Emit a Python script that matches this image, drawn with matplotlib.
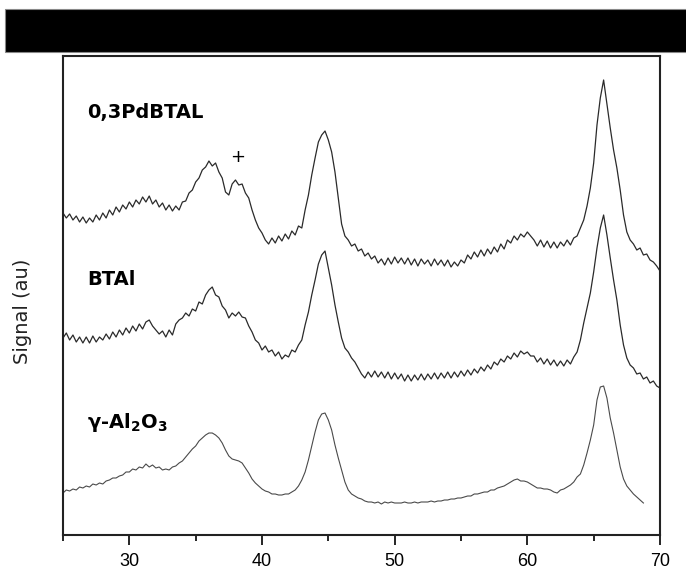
import numpy as np
import matplotlib
matplotlib.use("Agg")
import matplotlib.pyplot as plt
from matplotlib.patches import Rectangle

# 2-theta sampling grid (degrees)
two_theta = np.linspace(25, 70, 181)
two_theta_al2o3 = np.linspace(25, 68.75, 176)

# 0,3PdBTAL trace (arbitrary units, offset)
sig_pdbtal = [
    322, 317, 321, 315, 319, 313, 318, 312, 317, 313, 320, 315, 322, 317, 325, 320,
    328, 323, 330, 326, 333, 328, 335, 331, 338, 333, 339, 331, 335, 328, 332, 325,
    330, 324, 329, 325, 333, 334, 342, 345, 353, 357, 365, 368, 374, 369, 372, 363,
    357, 343, 340, 351, 355, 350, 351, 342, 337, 325, 315, 307, 302, 295, 291, 297,
    292, 299, 294, 301, 296, 304, 300, 309, 307, 325, 340, 360, 377, 393, 400, 404,
    395, 383, 363, 337, 311, 299, 295, 289, 291, 284, 286, 279, 282, 276, 279, 272,
    276, 270, 277, 271, 278, 272, 277, 271, 277, 270, 276, 269, 276, 271, 275, 269,
    276, 270, 275, 269, 275, 268, 273, 269, 275, 272, 280, 276, 283, 278, 285, 279,
    286, 281, 288, 283, 291, 286, 295, 292, 299, 295, 301, 298, 303, 299, 295, 289,
    295, 288, 294, 287, 293, 287, 293, 289, 295, 290, 297, 299, 307, 315, 329, 347,
    372, 410, 437, 455, 431, 407, 385, 367, 345, 320, 303, 295, 291, 285, 287, 280,
    281, 275, 273, 269, 264,
]

# BTAl trace
sig_btal = [
    197, 202, 195, 200, 193, 198, 192, 198, 192, 199, 193, 198, 195, 201, 196, 203,
    198, 205, 200, 207, 202, 209, 204, 211, 206, 213, 215, 209, 205, 201, 204, 198,
    205, 200, 211, 215, 217, 222, 219, 226, 224, 233, 231, 240, 245, 248, 240, 238,
    229, 225, 217, 222, 219, 223, 218, 217, 209, 203, 195, 192, 185, 189, 183, 185,
    179, 183, 176, 180, 178, 185, 183, 190, 195, 210, 223, 240, 255, 271, 280, 284,
    267, 250, 230, 213, 197, 187, 183, 177, 173, 167, 161, 157, 163, 158, 164, 158,
    163, 157, 163, 156, 162, 156, 161, 154, 160, 154, 160, 155, 161, 155, 161, 156,
    162, 156, 162, 157, 163, 157, 163, 158, 164, 159, 165, 160, 166, 162, 168, 164,
    170, 166, 173, 170, 176, 173, 179, 176, 182, 178, 184, 181, 183, 179, 179, 173,
    177, 171, 176, 170, 175, 169, 174, 169, 175, 171, 178, 183, 195, 212, 227, 242,
    263, 287, 307, 320, 300, 277, 255, 235, 210, 190, 177, 170, 167, 161, 162, 156,
    158, 152, 154, 149, 147,
]

# gamma-Al2O3 trace
sig_al2o3 = [
    42, 45, 44, 46, 45, 48, 47, 49, 48, 51, 50, 52, 51, 54, 55, 57,
    57, 59, 60, 63, 63, 66, 65, 68, 67, 71, 68, 70, 67, 68, 65, 66,
    65, 68, 69, 72, 74, 78, 82, 86, 89, 94, 97, 100, 102, 102, 100, 97,
    92, 85, 79, 76, 75, 74, 72, 67, 62, 56, 52, 49, 46, 44, 43, 41,
    41, 40, 40, 41, 41, 43, 45, 49, 55, 63, 75, 89, 103, 115, 121, 122,
    115, 105, 90, 77, 65, 53, 45, 41, 39, 37, 36, 34, 33, 33, 32, 33,
    31, 33, 32, 33, 32, 32, 32, 33, 32, 32, 33, 32, 33, 33, 33, 34,
    33, 34, 34, 35, 35, 36, 36, 37, 37, 38, 39, 39, 41, 41, 42, 43,
    43, 45, 45, 47, 48, 49, 51, 53, 55, 56, 54, 54, 53, 51, 49, 47,
    47, 46, 46, 45, 43, 42, 45, 46, 48, 50, 53, 58, 61, 70, 82, 95,
    110, 135, 148, 149, 137, 117, 102, 85, 68, 56, 49, 45, 41, 38, 35, 32,
]

x_ticks_major = [30, 40, 50, 60, 70]
x_ticks_minor = [25, 35, 45, 55, 65]
x_tick_labels = ["30", "40", "50", "60", "70"]

labels = ["0,3PdBTAL", "BTAl"]
label_pos = [(26.8, 417), (26.85, 250)]

fig = plt.figure(figsize=(6.86, 5.69), dpi=100)

# black header bar
fig.patches.append(Rectangle((5 / 686, 1 - 52 / 569), 1, 43 / 569,
                             transform=fig.transFigure, facecolor="black",
                             edgecolor="#888888", linewidth=0.8, zorder=0))

ax = fig.add_axes([63 / 686, 34 / 569, 597 / 686, 479 / 569])

ax.plot(two_theta, sig_pdbtal, color="#2a2a2a", lw=0.9)
ax.plot(two_theta, sig_btal, color="#2a2a2a", lw=0.9)
ax.plot(two_theta_al2o3, sig_al2o3, color="#4a4a4a", lw=0.8)

ax.set_xlim(25, 70)
ax.set_ylim(0, 479)

ax.set_xticks(x_ticks_major)
ax.set_xticklabels(x_tick_labels, fontfamily="Liberation Sans", fontsize=13)
ax.set_xticks(x_ticks_minor, minor=True)
ax.tick_params(axis="x", which="major", direction="out", length=7, width=1.2, pad=6)
ax.tick_params(axis="x", which="minor", direction="out", length=4, width=1.2)
ax.set_yticks([])

for sp in ax.spines.values():
    sp.set_linewidth(1.5)
    sp.set_color("#222222")

ax.set_ylabel("Signal (au)", fontsize=14, fontfamily="DejaVu Sans", color="#222222")
ax.yaxis.set_label_coords(-0.052, 0.468)

for txt, (xx, yy) in zip(labels, label_pos):
    ax.text(xx, yy, txt, fontsize=14, fontweight="bold", va="baseline", ha="left",
            fontfamily="DejaVu Sans")

ax.text(26.8, 107, r"γ-Al$_\mathbf{2}$O$_\mathbf{3}$", fontsize=14, fontweight="bold",
        va="baseline", ha="left", fontfamily="DejaVu Sans")

ax.text(38.15, 378, "+", fontsize=13, ha="center", va="center", fontfamily="DejaVu Sans")

fig.savefig("out.png", dpi=100)
